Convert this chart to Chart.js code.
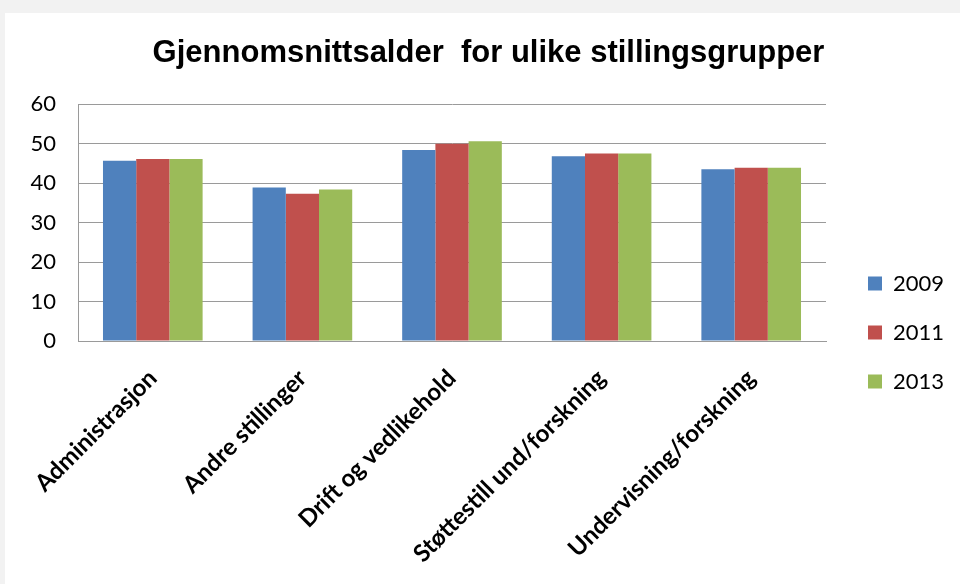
<!DOCTYPE html>
<html>
<head>
<meta charset="utf-8">
<script src="https://cdn.jsdelivr.net/npm/chart.js@4"></script>
<style>
    html, body { margin: 0; padding: 0; background: #f2f2f2; }
    #wrap { position: absolute; left: 5px; top: 13px; width: 955px; height: 571px; background: #ffffff; }
</style>
</head>
<body>
<div id="wrap"><canvas id="ageChart" width="955" height="571"></canvas></div>
<script>
const categories = ['Administrasjon', 'Andre stillinger', 'Drift og vedlikehold', 'Støttestill und/forskning', 'Undervisning/forskning'];
const years = ['2009', '2011', '2013'];
const values2009 = [45.7, 38.9, 48.4, 46.8, 43.5];
const values2011 = [46.1, 37.3, 50.0, 47.5, 43.9];
const values2013 = [46.1, 38.4, 50.6, 47.5, 43.9];
const yTicks = [0, 10, 20, 30, 40, 50, 60];

const colors = ['#4f81bd', '#c0504d', '#9bbb59'];

// nudge legend and title a bit, like the excel one
const boxNudge = {
    id: 'boxNudge',
    afterLayout(chart) {
        const lg = chart.legend;
        lg.left += 15;
        lg.right = chart.width;
        lg.top += 68;
        const tb = chart.titleBlock;
        tb.left += 10;
        tb.right += 10;
    }
};

const ctx = document.getElementById('ageChart');
new Chart(ctx, {
    type: 'bar',
    data: {
        labels: categories,
        datasets: [values2009, values2011, values2013].map((vals, i) => ({
            label: years[i],
            data: vals,
            backgroundColor: colors[i],
            borderWidth: 0,
            barPercentage: 1,
            categoryPercentage: 0.666
        }))
    },
    options: {
        responsive: false,
        animation: false,
        layout: { padding: { left: 13, right: 21, top: 0, bottom: 0 } },
        plugins: {
            title: {
                display: true,
                text: 'Gjennomsnittsalder  for ulike stillingsgrupper',
                color: '#000000',
                font: { family: '"Liberation Sans", Arial, sans-serif', size: 31, weight: 'bold' },
                padding: { top: 22, bottom: 32 }
            },
            legend: {
                position: 'right',
                maxWidth: 113,
                labels: {
                    color: '#000000',
                    boxWidth: 14,
                    boxHeight: 14,
                    padding: 27,
                    font: { family: 'Lato, sans-serif', size: 22 }
                }
            },
            tooltip: { enabled: false }
        },
        scales: {
            x: {
                grid: { display: false, drawTicks: false },
                border: { color: '#9a9a9a', width: 1 },
                ticks: {
                    color: '#000000',
                    minRotation: 45,
                    maxRotation: 45,
                    padding: 23,
                    font: { family: 'Lato, sans-serif', size: 24, weight: 'bold' }
                },
                afterFit(scale) { scale.height = 243; }
            },
            y: {
                min: 0,
                max: 60,
                afterBuildTicks(scale) { scale.ticks = yTicks.map(v => ({ value: v })); },
                grid: { color: '#9a9a9a', drawTicks: false },
                border: { color: '#9a9a9a', width: 1 },
                ticks: {
                    color: '#000000',
                    padding: 22,
                    font: { family: 'Lato, sans-serif', size: 22 }
                },
                afterFit(scale) { scale.width = 60; }
            }
        }
    },
    plugins: [boxNudge]
});
</script>
</body>
</html>
